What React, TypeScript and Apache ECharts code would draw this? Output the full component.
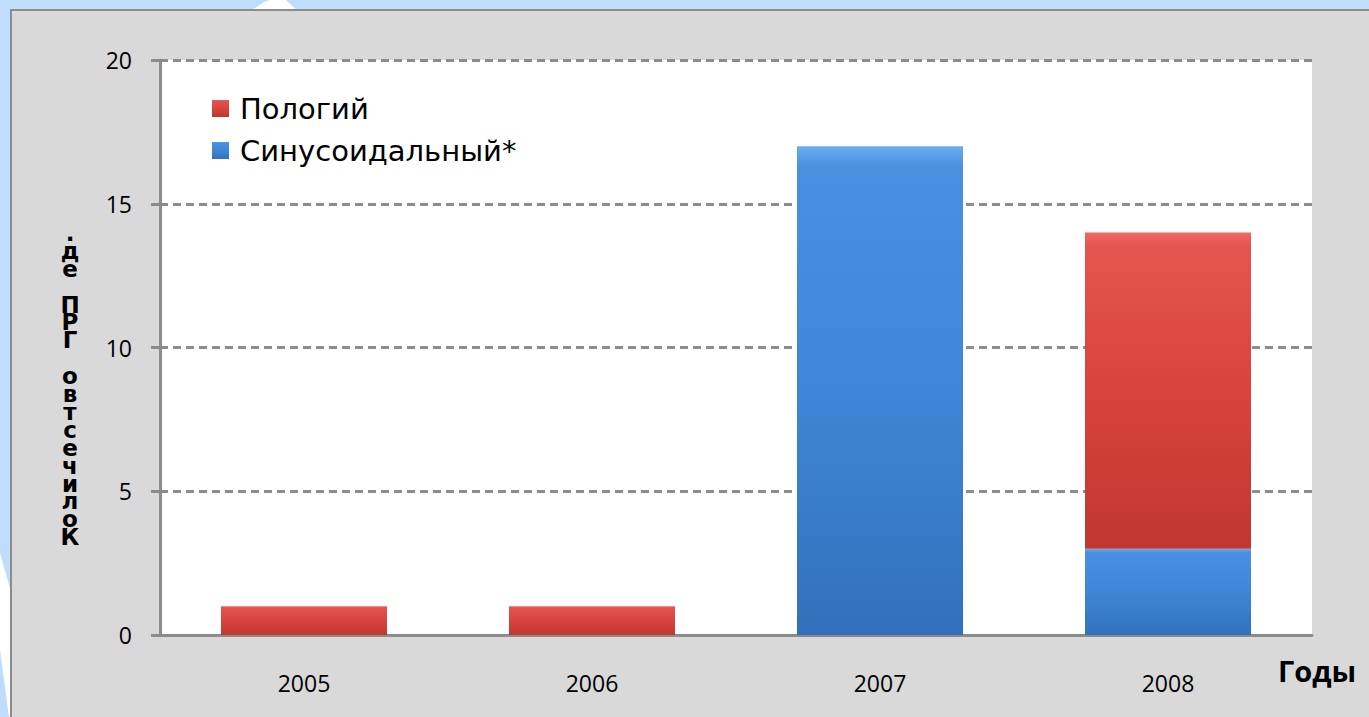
import React, { useEffect, useRef } from "react";
import * as echarts from "echarts";

const years = ["2005", "2006", "2007", "2008"];
const sinusoidal = [0, 0, 17, 3];
const gentle = [1, 1, 0, 11];
const yTicks = { min: 0, max: 20, interval: 5 };
const seriesNames = ["Пологий", "Синусоидальный*"];
const yAxisTitle = "Количество ГРП ед.";
const xAxisTitle = "Годы";

const redGrad = () =>
  new echarts.graphic.LinearGradient(0, 0, 0, 1, [
    { offset: 0, color: "#ec6a64" },
    { offset: 0.04, color: "#e55550" },
    { offset: 0.5, color: "#d8433e" },
    { offset: 1, color: "#c03631" },
  ]);
const blueGrad = () =>
  new echarts.graphic.LinearGradient(0, 0, 0, 1, [
    { offset: 0, color: "#6aaef0" },
    { offset: 0.04, color: "#4a90e0" },
    { offset: 0.5, color: "#3f86d6" },
    { offset: 1, color: "#3270bb" },
  ]);

export default function App() {
  const ref = useRef<HTMLDivElement>(null);
  useEffect(() => {
    if (!ref.current) return;
    const chart = echarts.init(ref.current, null, { renderer: "svg" });
    const font = "'Open Sans', 'Noto Sans', sans-serif";
    const stackedTitle = yAxisTitle.split("").reverse().join("\n");
    chart.setOption({
      animation: false,
      backgroundColor: "#bedcfc",
      textStyle: { fontFamily: font },
      graphic: [
        {
          type: "polygon",
          z: -20,
          shape: { points: [[0, 553], [11, 592], [11, 717], [9, 717], [0, 650]] },
          style: { fill: "#ffffff" },
        },
        {
          type: "polygon",
          z: -20,
          shape: { points: [[252, 10], [264, 2], [270, 0], [286, 0], [297, 10]] },
          style: { fill: "#ffffff" },
        },
        {
          type: "rect",
          z: -10,
          shape: { x: 11, y: 10, width: 1370, height: 720 },
          style: { fill: "#d9d9d9", stroke: "#8c8c8c", lineWidth: 2 },
        },
        {
          type: "text",
          x: 70,
          y: 224,
          style: {
            text: stackedTitle,
            fontSize: 23,
            fontWeight: "bold",
            lineHeight: 17.9,
            textAlign: "center",
            textVerticalAlign: "top",
            fill: "#000",
            fontFamily: "'DejaVu Sans', sans-serif",
          },
        },
        {
          type: "text",
          left: 1278,
          top: 656,
          style: {
            text: xAxisTitle,
            fontSize: 29,
            fontWeight: "bold",
            fill: "#000",
            fontFamily: font,
          },
        },
      ],
      legend: {
        orient: "vertical",
        left: 207,
        top: 89,
        itemWidth: 17,
        itemHeight: 17,
        itemGap: 13,
        icon: "rect",
        data: seriesNames,
        textStyle: {
          fontSize: 29,
          color: "#000",
          fontFamily: "'DejaVu Sans', sans-serif",
          padding: [0, 0, 0, 6],
        },
      },
      grid: {
        left: 160,
        right: 57,
        top: 60,
        bottom: 82,
        show: true,
        backgroundColor: "#ffffff",
        borderWidth: 0,
      },
      xAxis: {
        type: "category",
        data: years,
        axisLine: { lineStyle: { color: "#8c8c8c", width: 3 } },
        axisTick: { show: false },
        axisLabel: { fontSize: 23, color: "#000", margin: 36, fontFamily: font },
      },
      yAxis: {
        type: "value",
        min: yTicks.min,
        max: yTicks.max,
        interval: yTicks.interval,
        axisLine: { show: true, lineStyle: { color: "#8c8c8c", width: 3 } },
        axisTick: { show: true, length: 9, lineStyle: { color: "#8c8c8c", width: 3 } },
        splitLine: {
          lineStyle: { color: "#8c8c8c", width: 3, type: [8, 5] },
        },
        axisLabel: { fontSize: 23, color: "#000", margin: 28, fontFamily: font },
      },
      series: [
        {
          name: seriesNames[1],
          type: "bar",
          stack: "total",
          barWidth: 166,
          data: sinusoidal,
          itemStyle: { color: blueGrad() },
        },
        {
          name: seriesNames[0],
          type: "bar",
          stack: "total",
          barWidth: 166,
          data: gentle,
          itemStyle: { color: redGrad() },
        },
      ],
    });
    return () => chart.dispose();
  }, []);
  return (
    <div
      ref={ref}
      style={{ position: "fixed", left: 0, top: 0, width: 1369, height: 717 }}
    />
  );
}
